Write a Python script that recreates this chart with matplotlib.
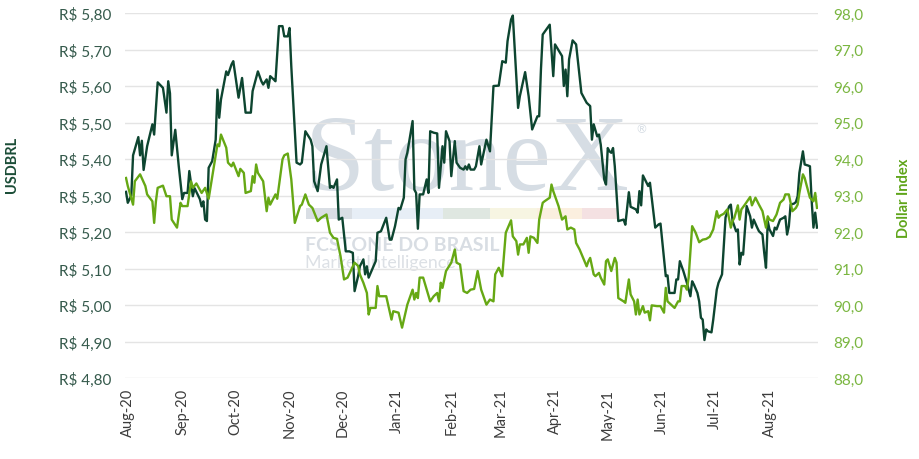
import matplotlib
matplotlib.use("Agg")
import matplotlib.pyplot as plt
import matplotlib.dates as mdates
from matplotlib.patches import Rectangle
import pandas as pd

plt.rcParams['font.family'] = ['Lato', 'DejaVu Sans']

# ---------------- data ----------------
usd_dates = [
    '2020-07-31', '2020-08-01', '2020-08-03', '2020-08-04', '2020-08-07', '2020-08-08', '2020-08-09', '2020-08-10',
    '2020-08-12', '2020-08-15', '2020-08-16', '2020-08-18', '2020-08-21', '2020-08-23', '2020-08-24', '2020-08-25',
    '2020-08-26', '2020-08-28', '2020-08-30', '2020-09-01', '2020-09-02', '2020-09-04', '2020-09-05', '2020-09-07',
    '2020-09-08', '2020-09-11', '2020-09-12', '2020-09-13', '2020-09-14', '2020-09-15', '2020-09-16', '2020-09-18',
    '2020-09-20', '2020-09-21', '2020-09-22', '2020-09-23', '2020-09-26', '2020-09-27', '2020-09-29', '2020-09-30',
    '2020-10-03', '2020-10-05', '2020-10-07', '2020-10-10', '2020-10-11', '2020-10-14', '2020-10-16', '2020-10-17',
    '2020-10-19', '2020-10-20', '2020-10-21', '2020-10-23', '2020-10-24', '2020-10-26', '2020-10-28', '2020-10-29',
    '2020-10-31', '2020-11-01', '2020-11-02', '2020-11-05', '2020-11-07', '2020-11-08', '2020-11-10', '2020-11-13',
    '2020-11-14', '2020-11-15', '2020-11-17', '2020-11-19', '2020-11-22', '2020-11-24', '2020-11-25', '2020-11-26',
    '2020-11-28', '2020-11-29', '2020-12-01', '2020-12-03', '2020-12-05', '2020-12-07', '2020-12-08', '2020-12-10',
    '2020-12-11', '2020-12-13', '2020-12-14', '2020-12-15', '2020-12-16', '2020-12-20', '2020-12-21', '2020-12-23',
    '2020-12-26', '2020-12-28', '2020-12-29', '2020-12-31', '2021-01-02', '2021-01-03', '2021-01-05', '2021-01-06',
    '2021-01-07', '2021-01-10', '2021-01-11', '2021-01-12', '2021-01-13', '2021-01-14', '2021-01-16', '2021-01-18',
    '2021-01-19', '2021-01-20', '2021-01-22', '2021-01-24', '2021-01-25', '2021-01-27', '2021-01-28', '2021-01-29',
    '2021-01-31', '2021-02-01', '2021-02-03', '2021-02-04', '2021-02-06', '2021-02-08', '2021-02-09', '2021-02-10',
    '2021-02-11', '2021-02-12', '2021-02-14', '2021-02-15', '2021-02-17', '2021-02-18', '2021-02-21', '2021-02-23',
    '2021-02-25', '2021-02-28', '2021-03-02', '2021-03-04', '2021-03-05', '2021-03-07', '2021-03-08', '2021-03-11',
    '2021-03-12', '2021-03-15', '2021-03-17', '2021-03-19', '2021-03-22', '2021-03-23', '2021-03-24', '2021-03-25',
    '2021-03-29', '2021-03-31', '2021-04-01', '2021-04-04', '2021-04-05', '2021-04-06', '2021-04-07', '2021-04-08',
    '2021-04-09', '2021-04-11', '2021-04-13', '2021-04-16', '2021-04-19', '2021-04-21', '2021-04-22', '2021-04-23',
    '2021-04-25', '2021-04-26', '2021-04-27', '2021-04-29', '2021-04-30', '2021-05-01', '2021-05-02', '2021-05-03',
    '2021-05-04', '2021-05-05', '2021-05-07', '2021-05-10', '2021-05-11', '2021-05-13', '2021-05-14', '2021-05-17',
    '2021-05-18', '2021-05-19', '2021-05-20', '2021-05-21', '2021-05-23', '2021-05-24', '2021-05-25', '2021-05-28',
    '2021-05-30', '2021-05-31', '2021-06-03', '2021-06-04', '2021-06-05', '2021-06-08', '2021-06-09', '2021-06-10',
    '2021-06-11', '2021-06-13', '2021-06-15', '2021-06-16', '2021-06-17', '2021-06-18', '2021-06-19', '2021-06-21',
    '2021-06-22', '2021-06-23', '2021-06-24', '2021-06-25', '2021-06-26', '2021-06-27', '2021-06-29', '2021-06-30',
    '2021-07-02', '2021-07-03', '2021-07-05', '2021-07-07', '2021-07-09', '2021-07-10', '2021-07-11', '2021-07-13',
    '2021-07-14', '2021-07-15', '2021-07-16', '2021-07-17', '2021-07-19', '2021-07-21', '2021-07-22', '2021-07-23',
    '2021-07-25', '2021-07-26', '2021-07-28', '2021-07-29', '2021-07-30', '2021-07-31', '2021-08-01', '2021-08-03',
    '2021-08-04', '2021-08-05', '2021-08-07', '2021-08-09', '2021-08-10', '2021-08-11', '2021-08-12', '2021-08-13',
    '2021-08-15', '2021-08-16', '2021-08-17', '2021-08-18', '2021-08-20', '2021-08-21', '2021-08-23', '2021-08-24',
    '2021-08-25', '2021-08-26', '2021-08-27', '2021-08-28',
]
usd_values = [
    5.310, 5.280, 5.300, 5.410, 5.460, 5.410, 5.450, 5.370,
    5.435, 5.495, 5.467, 5.610, 5.595, 5.527, 5.613, 5.580,
    5.410, 5.480, 5.380, 5.290, 5.307, 5.307, 5.367, 5.298,
    5.320, 5.290, 5.270, 5.284, 5.234, 5.230, 5.376, 5.394,
    5.453, 5.590, 5.513, 5.563, 5.640, 5.630, 5.659, 5.668,
    5.568, 5.622, 5.527, 5.527, 5.586, 5.640, 5.613, 5.604,
    5.618, 5.595, 5.627, 5.618, 5.613, 5.764, 5.764, 5.736,
    5.736, 5.759, 5.654, 5.390, 5.385, 5.390, 5.476, 5.453,
    5.435, 5.339, 5.312, 5.385, 5.435, 5.321, 5.326, 5.321,
    5.344, 5.234, 5.239, 5.147, 5.147, 5.143, 5.038, 5.079,
    5.106, 5.125, 5.084, 5.106, 5.075, 5.120, 5.198, 5.202,
    5.239, 5.179, 5.179, 5.216, 5.266, 5.262, 5.294, 5.399,
    5.417, 5.504, 5.316, 5.307, 5.209, 5.303, 5.303, 5.344,
    5.307, 5.476, 5.472, 5.470, 5.321, 5.435, 5.390, 5.476,
    5.449, 5.353, 5.449, 5.390, 5.376, 5.371, 5.380, 5.371,
    5.385, 5.371, 5.371, 5.380, 5.435, 5.385, 5.453, 5.421,
    5.600, 5.601, 5.668, 5.664, 5.723, 5.782, 5.793, 5.540,
    5.572, 5.638, 5.572, 5.481, 5.517, 5.517, 5.645, 5.741,
    5.768, 5.627, 5.714, 5.690, 5.682, 5.600, 5.645, 5.572,
    5.673, 5.725, 5.714, 5.581, 5.554, 5.545, 5.453, 5.495,
    5.462, 5.467, 5.440, 5.344, 5.330, 5.430, 5.421, 5.417,
    5.430, 5.380, 5.230, 5.234, 5.220, 5.309, 5.269, 5.262,
    5.253, 5.312, 5.273, 5.355, 5.336, 5.326, 5.335, 5.212,
    5.221, 5.223, 5.079, 5.081, 5.033, 5.033, 5.070, 5.070,
    5.120, 5.093, 5.061, 5.043, 5.024, 5.065, 5.056, 5.033,
    5.010, 4.965, 4.960, 4.904, 4.933, 4.928, 4.925, 4.960,
    5.042, 5.061, 5.084, 5.240, 5.270, 5.275, 5.230, 5.202,
    5.207, 5.111, 5.143, 5.138, 5.271, 5.243, 5.212, 5.234,
    5.212, 5.202, 5.193, 5.143, 5.102, 5.230, 5.207, 5.189,
    5.212, 5.207, 5.234, 5.239, 5.243, 5.193, 5.216, 5.275,
    5.278, 5.282, 5.298, 5.362, 5.421, 5.385, 5.382, 5.380,
    5.284, 5.212, 5.253, 5.212,
]

dxy_dates = [
    '2020-07-31', '2020-08-01', '2020-08-04', '2020-08-05', '2020-08-08', '2020-08-11', '2020-08-12', '2020-08-15',
    '2020-08-16', '2020-08-17', '2020-08-18', '2020-08-21', '2020-08-23', '2020-08-25', '2020-08-26', '2020-08-29',
    '2020-08-31', '2020-09-01', '2020-09-04', '2020-09-06', '2020-09-07', '2020-09-09', '2020-09-12', '2020-09-14',
    '2020-09-16', '2020-09-21', '2020-09-22', '2020-09-23', '2020-09-26', '2020-09-27', '2020-09-29', '2020-09-30',
    '2020-10-03', '2020-10-04', '2020-10-06', '2020-10-07', '2020-10-10', '2020-10-11', '2020-10-12', '2020-10-13',
    '2020-10-14', '2020-10-17', '2020-10-19', '2020-10-20', '2020-10-21', '2020-10-24', '2020-10-25', '2020-10-28',
    '2020-10-29', '2020-10-31', '2020-11-02', '2020-11-04', '2020-11-07', '2020-11-08', '2020-11-10', '2020-11-12',
    '2020-11-14', '2020-11-17', '2020-11-19', '2020-11-22', '2020-11-24', '2020-11-26', '2020-11-28', '2020-11-30',
    '2020-12-02', '2020-12-04', '2020-12-08', '2020-12-10', '2020-12-11', '2020-12-13', '2020-12-15', '2020-12-16',
    '2020-12-17', '2020-12-20', '2020-12-21', '2020-12-22', '2020-12-26', '2020-12-29', '2020-12-30', '2021-01-02',
    '2021-01-04', '2021-01-07', '2021-01-10', '2021-01-11', '2021-01-12', '2021-01-13', '2021-01-14', '2021-01-16',
    '2021-01-18', '2021-01-20', '2021-01-22', '2021-01-24', '2021-01-25', '2021-01-26', '2021-01-27', '2021-01-29',
    '2021-02-01', '2021-02-03', '2021-02-04', '2021-02-06', '2021-02-08', '2021-02-10', '2021-02-12', '2021-02-14',
    '2021-02-16', '2021-02-18', '2021-02-21', '2021-02-23', '2021-02-25', '2021-02-26', '2021-02-28', '2021-03-02',
    '2021-03-04', '2021-03-07', '2021-03-08', '2021-03-10', '2021-03-11', '2021-03-12', '2021-03-14', '2021-03-16',
    '2021-03-17', '2021-03-18', '2021-03-20', '2021-03-22', '2021-03-23', '2021-03-25', '2021-03-26', '2021-03-29',
    '2021-03-30', '2021-03-31', '2021-04-03', '2021-04-05', '2021-04-07', '2021-04-08', '2021-04-10', '2021-04-12',
    '2021-04-13', '2021-04-15', '2021-04-17', '2021-04-19', '2021-04-20', '2021-04-21', '2021-04-23', '2021-04-24',
    '2021-04-26', '2021-04-27', '2021-04-29', '2021-04-30', '2021-05-01', '2021-05-03', '2021-05-05', '2021-05-06',
    '2021-05-07', '2021-05-10', '2021-05-11', '2021-05-13', '2021-05-14', '2021-05-16', '2021-05-17', '2021-05-18',
    '2021-05-19', '2021-05-21', '2021-05-22', '2021-05-24', '2021-05-25', '2021-05-26', '2021-05-29', '2021-05-31',
    '2021-06-02', '2021-06-03', '2021-06-04', '2021-06-06', '2021-06-08', '2021-06-10', '2021-06-11', '2021-06-12',
    '2021-06-14', '2021-06-15', '2021-06-16', '2021-06-18', '2021-06-20', '2021-06-22', '2021-06-24', '2021-06-26',
    '2021-06-28', '2021-06-30', '2021-07-02', '2021-07-03', '2021-07-04', '2021-07-06', '2021-07-08', '2021-07-10',
    '2021-07-11', '2021-07-12', '2021-07-14', '2021-07-15', '2021-07-16', '2021-07-18', '2021-07-20', '2021-07-21',
    '2021-07-22', '2021-07-24', '2021-07-26', '2021-07-28', '2021-07-29', '2021-07-30', '2021-07-31', '2021-08-01',
    '2021-08-03', '2021-08-05', '2021-08-07', '2021-08-09', '2021-08-10', '2021-08-12', '2021-08-14', '2021-08-16',
    '2021-08-17', '2021-08-18', '2021-08-20', '2021-08-21', '2021-08-23', '2021-08-24', '2021-08-26', '2021-08-27',
    '2021-08-28',
]
dxy_values = [
    93.48, 93.26, 92.75, 93.39, 93.58, 93.26, 93.03, 92.84,
    92.25, 92.84, 93.21, 93.27, 92.98, 92.98, 92.34, 92.12,
    92.80, 92.71, 92.71, 93.39, 93.21, 93.33, 93.07, 93.21,
    92.91, 94.40, 94.35, 94.67, 94.31, 93.90, 93.80, 93.90,
    93.53, 93.73, 93.62, 93.07, 93.12, 93.53, 93.35, 93.85,
    93.62, 93.39, 92.57, 92.94, 92.75, 93.03, 92.91, 93.99,
    94.10, 94.15, 93.44, 92.25, 92.71, 92.75, 93.03, 92.75,
    92.66, 92.30, 92.39, 92.48, 91.98, 91.84, 91.81, 91.34,
    90.70, 90.75, 91.16, 91.07, 90.84, 90.61, 90.33, 89.74,
    89.92, 89.92, 90.52, 90.24, 90.24, 89.60, 89.83, 89.79,
    89.38, 90.01, 90.42, 90.15, 90.33, 90.19, 90.75, 90.75,
    90.42, 90.10, 90.24, 90.33, 90.10, 90.61, 90.47, 90.93,
    91.16, 91.52, 91.16, 91.11, 90.38, 90.33, 90.42, 90.44,
    90.93, 90.42, 90.01, 90.15, 90.10, 90.84, 91.02, 90.79,
    91.98, 92.32, 91.88, 91.75, 91.38, 91.66, 91.66, 91.84,
    91.43, 91.88, 91.84, 91.70, 92.34, 92.80, 92.84, 92.94,
    93.30, 93.12, 92.71, 92.34, 92.43, 92.07, 92.12, 92.07,
    91.70, 91.52, 91.29, 91.06, 91.20, 91.29, 90.84, 90.79,
    90.88, 90.75, 90.56, 91.20, 91.25, 90.93, 91.29, 91.16,
    90.19, 90.10, 90.06, 90.70, 90.29, 90.10, 89.74, 90.15,
    89.74, 89.97, 89.79, 89.83, 89.58, 89.99, 89.97, 89.97,
    89.79, 90.47, 90.10, 90.01, 89.92, 90.10, 90.10, 90.52,
    90.52, 90.42, 90.75, 92.16, 91.98, 91.72, 91.79, 91.81,
    91.87, 92.07, 92.57, 92.39, 92.45, 92.50, 92.62, 92.12,
    92.30, 92.39, 92.73, 92.34, 92.62, 92.75, 92.89, 92.96,
    92.73, 92.94, 92.75, 92.57, 92.34, 92.12, 92.43, 92.34,
    92.30, 92.48, 92.80, 92.89, 93.03, 93.03, 92.57, 92.66,
    92.75, 93.07, 93.58, 93.48, 93.12, 92.94, 92.84, 93.07,
    92.66,
]

usd_ticks = [4.80, 4.90, 5.00, 5.10, 5.20, 5.30, 5.40, 5.50, 5.60, 5.70, 5.80]
usd_tick_labels = ['R$ 4,80', 'R$ 4,90', 'R$ 5,00', 'R$ 5,10', 'R$ 5,20', 'R$ 5,30',
                   'R$ 5,40', 'R$ 5,50', 'R$ 5,60', 'R$ 5,70', 'R$ 5,80']
dxy_ticks = [88, 89, 90, 91, 92, 93, 94, 95, 96, 97, 98]
dxy_tick_labels = ['88,0', '89,0', '90,0', '91,0', '92,0', '93,0',
                   '94,0', '95,0', '96,0', '97,0', '98,0']
x_start = '2020-07-30 10:00'
x_end = '2021-08-28 14:00'
usd_label = 'USDBRL'
dxy_label = 'Dollar Index'

# ---------------- style ----------------
DARK = '#0d4530'
LIGHT = '#66a814'
LEFT_TXT = '#355a4c'
RIGHT_TXT = '#7ab640'
GRID = '#e4e4e4'

fig = plt.figure(figsize=(9.2, 4.6), dpi=100)
ax = fig.add_axes([125 / 920, 1 - 379 / 460, 693 / 920, 365 / 460])
ax2 = ax.twinx()

# watermark (behind lines)
wm_kw = dict(transform=fig.transFigure, zorder=0.5, clip_on=False)
ax.text(305 / 920, 1 - 190 / 460, 'StoneX', fontsize=78, family='Liberation Serif',
        color='#d6dde4', va='baseline', ha='left', **wm_kw)
ax.text(636 / 920, 1 - 133 / 460, '®', fontsize=8.5, color='#d6dde4', va='baseline', ha='left', **wm_kw)
bar_cols = ['#d9dee4', '#e7eef6', '#dfe7e1', '#f7f5e2', '#fbefdf', '#f4e1e2']
bar_edges = [306, 352, 443, 490, 537, 582, 618]
for i, c in enumerate(bar_cols):
    ax.add_patch(Rectangle((bar_edges[i] / 920, 1 - 220 / 460),
                           (bar_edges[i + 1] - bar_edges[i]) / 920, 11 / 460,
                           facecolor=c, edgecolor='none', **wm_kw))
ax.text(305 / 920, 1 - 251 / 460, 'FCSTONE DO BRASIL', fontsize=14, fontweight='bold',
        color='#d8dde3', va='baseline', ha='left', **wm_kw)
ax.text(305 / 920, 1 - 268 / 460, 'Market Intelligence', fontsize=12.8, fontweight='normal',
        color='#dce0e5', va='baseline', ha='left', **wm_kw)

ud = pd.to_datetime(usd_dates)
dd = pd.to_datetime(dxy_dates)
ax.plot(ud, usd_values, color=DARK, lw=1.7, zorder=3, solid_joinstyle='round')
ax2.plot(dd, dxy_values, color=LIGHT, lw=1.7, zorder=3, solid_joinstyle='round')

ax.set_ylim(4.80, 5.80)
ax2.set_ylim(88, 98)
ax.set_xlim(pd.Timestamp(x_start), pd.Timestamp(x_end))

ax.set_yticks(usd_ticks)
ax.set_yticklabels(usd_tick_labels)
ax2.set_yticks(dxy_ticks)
ax2.set_yticklabels(dxy_tick_labels)

ax.grid(axis='y', color=GRID, lw=1.0, zorder=0)
ax.set_axisbelow(True)
for a in (ax, ax2):
    for s in a.spines.values():
        s.set_visible(False)

ax.tick_params(axis='y', length=0, pad=10, labelsize=11, labelcolor=LEFT_TXT)
ax2.tick_params(axis='y', length=0, pad=11, labelsize=11, labelcolor=RIGHT_TXT)

ax.xaxis.set_major_locator(mdates.MonthLocator())
ax.xaxis.set_major_formatter(mdates.DateFormatter('%b-%y'))
ax.tick_params(axis='x', length=0, pad=7, labelsize=10.5, labelcolor='#3c3c3c', labelrotation=90)

fig.text(12.5 / 920, 1 - 165 / 460, usd_label, rotation=90, fontsize=10.5, fontweight='bold',
         color='#1b4d37', ha='center', va='center')
fig.text(904 / 920, 1 - 198 / 460, dxy_label, rotation=90, fontsize=10.5, fontweight='bold',
         color='#5fa51a', ha='center', va='center')

fig.savefig('out.png', dpi=100)
